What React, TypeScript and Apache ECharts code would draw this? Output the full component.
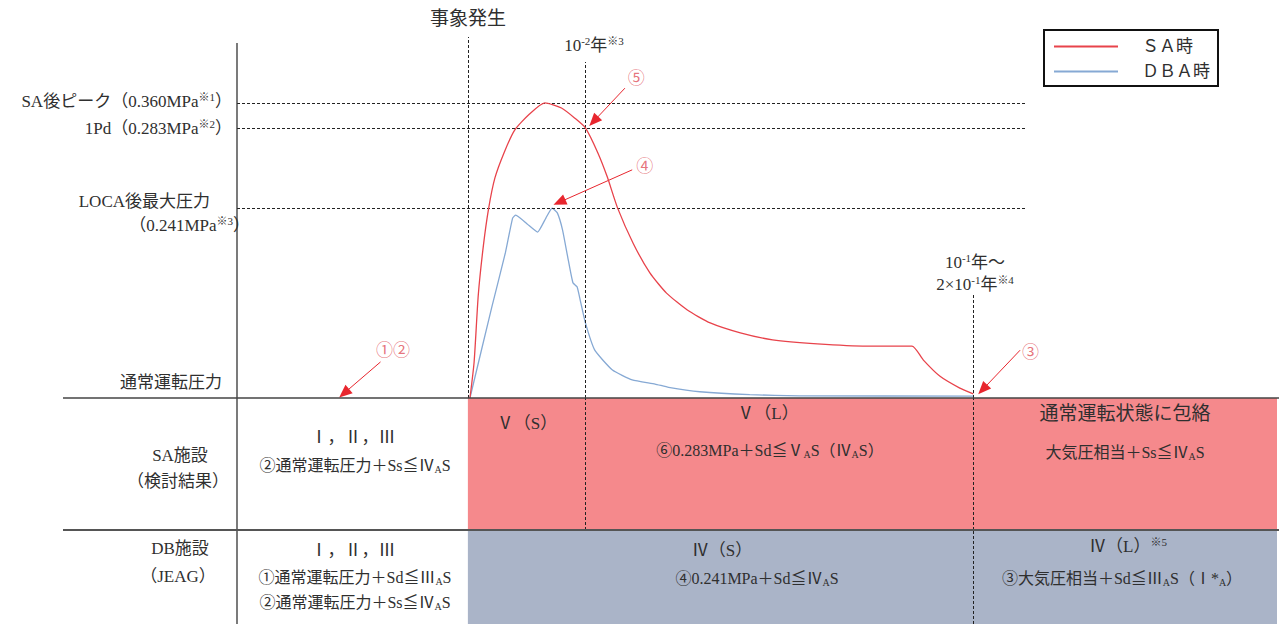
import React, { useEffect, useRef } from 'react';
import * as echarts from 'echarts';

const FONT = "'Liberation Serif','Noto Sans CJK JP',serif";
const TXT = '#2f2f2f';
const RED = '#E8434B';
const BLUE = '#86A9D4';
const ARROW = '#E8262E';
const SA_FILL = '#F5898C';
const DB_FILL = '#AAB4C8';

// Schematic axes: x = time (relative 0–100), y = pressure above normal operation (relative 0–100)
const EVENT_X = 22.2;      // 事象発生
const T_1E_2 = 33.5;       // 10^-2 年
const T_1E_1 = 70.8;       // 10^-1 年 〜 2×10^-1 年
const REF_END_X = 75.8;
const SA_PEAK = 80.2;      // 0.360 MPa
const PD1 = 73.4;          // 0.283 MPa
const LOCA_MAX = 51.6;     // 0.241 MPa
const EVENT_TOP = 98.1;
const T2_TOP = 91.3;
const T1_TOP = 28.5;

const saCurve = [
  [22.4, 0], [22.8, 9.8], [23.2, 28.0], [23.7, 41.6], [24.2, 51.6], [24.8, 59.8],
  [25.7, 66.8], [26.7, 72.8], [28.1, 77.1], [29.6, 80.2], [31.2, 78.8], [32.5, 76.0],
  [33.5, 73.4], [34.7, 66.6], [35.6, 60.1], [36.6, 51.6], [38.1, 42.0], [39.7, 34.0],
  [41.3, 28.5], [43.3, 23.9], [45.5, 20.4], [48.4, 17.7], [51.5, 15.8], [55.8, 14.7],
  [60.6, 14.1], [64.9, 14.1], [66.0, 10.3], [67.6, 5.9], [69.5, 2.7], [70.8, 1.1],
];

const dbaCurve = [
  [22.4, 0], [24.5, 24.7], [25.8, 39.4], [26.5, 48.9], [26.8, 49.7], [27.9, 47.3],
  [28.9, 45.1], [29.7, 48.9], [30.3, 51.6], [30.8, 50.3], [31.3, 45.7], [31.8, 38.3],
  [32.3, 31.3], [32.7, 30.2], [33.0, 26.6], [33.5, 20.4], [34.4, 13.0], [36.1, 7.6],
  [38.0, 4.9], [40.2, 3.8], [41.5, 2.9], [44.5, 1.7], [49.3, 0.9], [54.1, 0.6], [70.8, 0.5],
];

const arrowLines = [
  [[13.8, 9.8], [10.3, 1.3]],
  [[37.3, 84.2], [34.3, 75.2]],
  [[38.0, 62.0], [31.0, 53.2]],
  [[75.3, 13.0], [71.7, 2.3]],
];
const arrowLabels = [
  [15.0, 13.0, '①②'],
  [38.4, 86.7, '⑤'],
  [39.2, 62.8, '④'],
  [76.3, 12.5, '③'],
];

function rich(size: number) {
  return {
    sub: { fontSize: Math.round(size * 0.62), fontFamily: FONT, fill: TXT, padding: [Math.round(size * 0.55), 0, 0, 0] },
    sup: { fontSize: Math.round(size * 0.66), fontFamily: FONT, fill: TXT, padding: [0, 0, Math.round(size * 0.5), 0] },
  };
}

function T(x: number, y: number, text: string, size = 17, align = 'center', color = TXT) {
  return {
    type: 'text', x, y, z: 100, silent: true,
    style: {
      text, fill: color, fontSize: size, fontFamily: FONT,
      align, verticalAlign: 'middle', rich: rich(size),
    },
  };
}

function L(x1: number, y1: number, x2: number, y2: number, w = 1.5, color = '#3a3a3a') {
  return { type: 'line', z: 100, silent: true, shape: { x1, y1, x2, y2 }, style: { stroke: color, lineWidth: w } };
}

export default function App() {
  const ref = useRef<HTMLDivElement>(null);
  useEffect(() => {
    document.body.style.margin = '0';
    const chart = echarts.init(ref.current!, null, { renderer: 'svg' });
    const dash = { color: '#222', type: [3, 2] as any, width: 1 };
    const option: any = {
      animation: false,
      backgroundColor: '#fff',
      grid: [
        { left: 237, top: 30, width: 1040, height: 368 },
        { left: 237, top: 398, width: 1040, height: 132 },
        { left: 237, top: 530, width: 1040, height: 94 },
      ],
      xAxis: [0, 1, 2].map((i) => ({ type: 'value', gridIndex: i, min: 0, max: 100, show: false })),
      yAxis: [0, 1, 2].map((i) => ({ type: 'value', gridIndex: i, min: 0, max: i === 0 ? 100 : 1, show: false })),
      legend: {
        left: 1044, top: 30, orient: 'vertical', align: 'left',
        borderColor: '#111', borderWidth: 2, padding: [8, 8, 6, 10],
        itemWidth: 64, itemHeight: 2, itemGap: 8,
        data: [{ name: 'ＳＡ時', icon: 'rect' }, { name: 'ＤＢＡ時', icon: 'rect' }],
        formatter: (name: string) => `{g|}{t|${name}}`,
        textStyle: {
          fontSize: 17, fontFamily: FONT, color: TXT,
          rich: { g: { width: 19 }, t: { fontSize: 17, fontFamily: FONT, color: TXT } },
        },
        selectedMode: false,
      },
      series: [
        {
          name: 'ＳＡ時', type: 'line', data: saCurve, showSymbol: false, smooth: 0.2,
          color: RED, lineStyle: { color: RED, width: 1.3 }, silent: true, z: 5,
        },
        {
          name: 'ＤＢＡ時', type: 'line', data: dbaCurve, showSymbol: false, smooth: 0.15,
          color: BLUE, lineStyle: { color: BLUE, width: 1.3 }, silent: true, z: 4,
        },
        {
          name: 'refs', type: 'line', data: [], silent: true, z: 3,
          markLine: {
            silent: true, symbol: ['none', 'none'], label: { show: false }, lineStyle: dash,
            data: [
              [{ coord: [0, SA_PEAK] }, { coord: [REF_END_X, SA_PEAK] }],
              [{ coord: [0, PD1] }, { coord: [REF_END_X, PD1] }],
              [{ coord: [0, LOCA_MAX] }, { coord: [REF_END_X, LOCA_MAX] }],
              [{ coord: [EVENT_X, 0] }, { coord: [EVENT_X, EVENT_TOP] }],
              [{ coord: [T_1E_2, 0] }, { coord: [T_1E_2, T2_TOP] }],
              [{ coord: [T_1E_1, 0] }, { coord: [T_1E_1, T1_TOP] }],
            ],
          },
        },
        {
          name: 'arrows', type: 'line', data: [], silent: true, z: 6,
          markLine: {
            silent: true, symbol: ['none', 'triangle'], symbolSize: [11, 13], label: { show: false },
            lineStyle: { color: ARROW, type: 'solid', width: 1 },
            itemStyle: { color: ARROW },
            data: arrowLines.map(([a, b]) => [{ coord: a }, { coord: b }]),
          },
        },
        {
          name: 'labels', type: 'scatter', data: arrowLabels, symbolSize: 0, silent: true, z: 6,
          label: {
            show: true, position: 'inside', formatter: (p: any) => p.data[2],
            color: '#E0505A', fontSize: 17, fontFamily: FONT,
          },
        },
        {
          name: 'saRow', type: 'line', xAxisIndex: 1, yAxisIndex: 1, data: [], silent: true,
          markArea: { silent: true, itemStyle: { color: SA_FILL }, data: [[{ coord: [EVENT_X, 0] }, { coord: [100, 1] }]] },
          markLine: {
            silent: true, symbol: ['none', 'none'], label: { show: false }, lineStyle: dash,
            data: [{ xAxis: T_1E_2 }, { xAxis: T_1E_1 }],
          },
        },
        {
          name: 'dbRow', type: 'line', xAxisIndex: 2, yAxisIndex: 2, data: [], silent: true,
          markArea: { silent: true, itemStyle: { color: DB_FILL }, data: [[{ coord: [EVENT_X, 0] }, { coord: [100, 1] }]] },
          markLine: {
            silent: true, symbol: ['none', 'none'], label: { show: false }, lineStyle: dash,
            data: [{ xAxis: T_1E_1 }],
          },
        },
      ],
      graphic: [
        L(237, 43, 237, 624, 1.3, '#333'),
        L(63, 398, 1279, 398, 1.5, '#444'),
        L(63, 530, 1279, 530, 2, '#555'),
        T(468, 18, '事象発生', 19),
        T(594, 45, '10{sup|-2}年{sup|※3}', 17),
        T(975, 262, '10{sup|-1}年～', 17),
        T(975, 284, '2×10{sup|-1}年{sup|※4}', 17),
        T(232, 101, 'SA後ピーク（0.360MPa{sup|※1}）', 17, 'right'),
        T(232, 128, '1Pd（0.283MPa{sup|※2}）', 17, 'right'),
        T(210, 201, 'LOCA後最大圧力', 17, 'right'),
        T(250, 225, '（0.241MPa{sup|※3}）', 17, 'right'),
        T(222, 382, '通常運転圧力', 17, 'right'),
        T(180, 455, 'SA施設', 17),
        T(178, 481, '（検討結果）', 17),
        T(180, 548, 'DB施設', 17),
        T(178, 576, '（JEAG）', 17),
        T(353, 437, 'Ⅰ，Ⅱ，Ⅲ', 17),
        T(355, 465, '②通常運転圧力＋Ss≦Ⅳ{sub|A}S', 16),
        T(353, 550, 'Ⅰ，Ⅱ，Ⅲ', 17),
        T(355, 577, '①通常運転圧力＋Sd≦Ⅲ{sub|A}S', 16),
        T(355, 602, '②通常運転圧力＋Ss≦Ⅳ{sub|A}S', 16),
        T(527, 423, 'Ⅴ（S）', 17),
        T(768, 413, 'Ⅴ（L）', 17),
        T(770, 450, '⑥0.283MPa＋Sd≦Ⅴ{sub|A}S（Ⅳ{sub|A}S）', 16),
        T(1125, 413, '通常運転状態に包絡', 19),
        T(1125, 452, '大気圧相当＋Ss≦Ⅳ{sub|A}S', 16),
        T(722, 550, 'Ⅳ（S）', 17),
        T(757, 578, '④0.241MPa＋Sd≦Ⅳ{sub|A}S', 16),
        T(1128, 546, 'Ⅳ（L）{sup|※5}', 17),
        T(1122, 578, '③大気圧相当＋Sd≦Ⅲ{sub|A}S（Ⅰ*{sub|A}）', 16),
      ],
    };
    chart.setOption(option);
    return () => chart.dispose();
  }, []);
  return <div ref={ref} style={{ width: 1279, height: 624 }} />;
}
